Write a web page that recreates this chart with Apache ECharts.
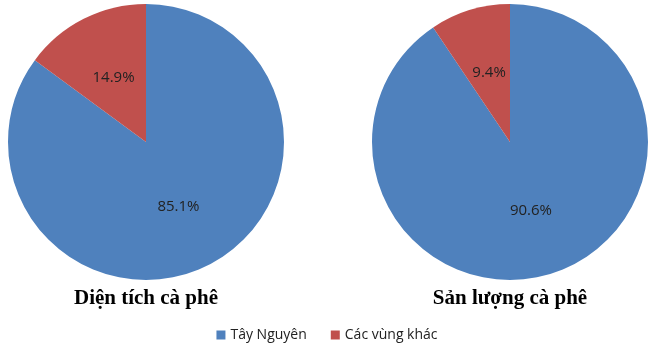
<!DOCTYPE html>
<html><head><meta charset="utf-8">
<script src="https://cdn.jsdelivr.net/npm/echarts@6/dist/echarts.min.js"></script>
<style>html,body{margin:0;padding:0;background:#fff}#c{width:654px;height:359px}</style>
</head><body><div id="c"></div>
<script>
var categories = ['Tây Nguyên', 'Các vùng khác'];
var areaValues = [85.1, 14.9];
var outputValues = [90.6, 9.4];
var titles = ['Diện tích cà phê', 'Sản lượng cà phê'];
var colors = ['#4F81BD', '#C0504D'];

function mk(vals, cx) {
  return {
    type: 'pie', center: [cx, 142], radius: [0, 138], startAngle: 90, clockwise: true,
    silent: true, animation: false,
    data: categories.map(function (n, i) { return { name: n, value: vals[i] }; }),
    label: { show: true, position: 'inside', formatter: function (p) { return p.value.toFixed(1) + '%'; },
      color: '#222', fontSize: 15, fontFamily: 'Open Sans' },
    labelLine: { show: false },
    itemStyle: { borderWidth: 0 }
  };
}
var chart = echarts.init(document.getElementById('c'));
chart.setOption({
  color: colors,
  animation: false,
  title: [
    { text: titles[0], left: 141, top: 283, textAlign: 'center',
      textStyle: { fontFamily: 'Liberation Serif', fontWeight: 'bold', fontSize: 21, color: '#000' } },
    { text: titles[1], left: 505, top: 283, textAlign: 'center',
      textStyle: { fontFamily: 'Liberation Serif', fontWeight: 'bold', fontSize: 21, color: '#000' } }
  ],
  legend: {
    data: categories, bottom: 12, left: 'center', icon: 'rect', itemWidth: 9, itemHeight: 9, itemGap: 24,
    textStyle: { fontFamily: 'Open Sans', fontSize: 14, color: '#222' }
  },
  series: [mk(areaValues, 146), mk(outputValues, 510)]
});
</script></body></html>
